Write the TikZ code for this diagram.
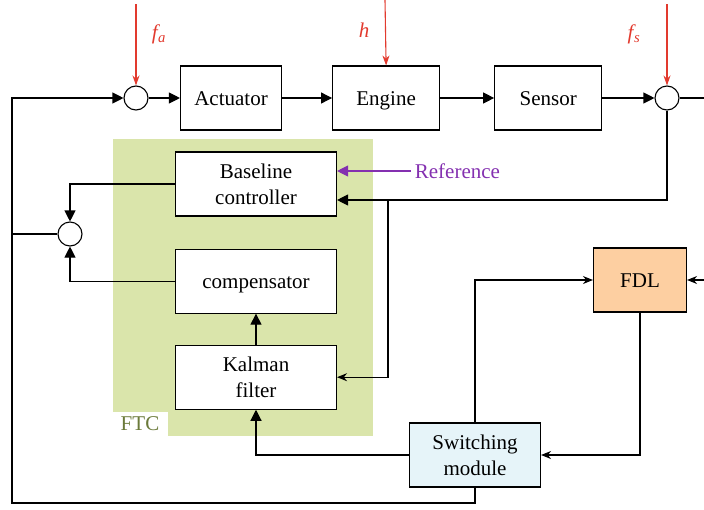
\documentclass[tikz,border=0pt]{standalone}
\usepackage{fontspec}
\setmainfont{Liberation Serif}
\usepackage{xcolor}
\usetikzlibrary{arrows.meta,positioning}
\definecolor{ftcfill}{HTML}{DAE5AB}
\definecolor{ftctext}{HTML}{6B7A3A}
\definecolor{fdlfill}{HTML}{FDCFA1}
\definecolor{swfill}{HTML}{E6F4F9}
\definecolor{faultred}{HTML}{E23A2E}
\definecolor{refpurple}{HTML}{8430B0}

\begin{document}
\begin{tikzpicture}[x=1pt,y=-1pt,font=\fontsize{21}{26}\selectfont,
  line width=1.1pt,
  blk/.style={draw,fill=white,minimum width=107pt,minimum height=64pt,
              align=center,inner sep=2pt},
  one/.style={text height=15pt,text depth=0pt},
  sum/.style={draw,fill=white,circle,minimum size=24pt,inner sep=0pt},
  e/.style={-{Triangle[length=11pt,width=11pt]}},
  e2/.style={-{Stealth[length=10pt,width=8pt]}},
  fl/.style={-{Stealth[length=10pt,width=7pt]},faultred}]
  \useasboundingbox (0,0) rectangle (704,509);
  % FTC area
  \fill[ftcfill] (113,139) rectangle (373,436);
  \fill[white] (113,412) rectangle (168,436);
  \node[text=ftctext] (ftc) at (140,424) {FTC};
  % plant loop
  \node[sum] (s1) at (136,98) {};
  \node[blk,one,minimum width=101pt] (act) at (231,98) {Actuator};
  \node[blk,one,right=50pt of act] (eng) {Engine};
  \node[blk,one,right=54pt of eng] (sen) {Sensor};
  \node[sum] (s2) at (667,98) {};
  % controller
  \node[blk,minimum width=161pt] (bc) at (256,184) {Baseline\\controller};
  \node[blk,one,minimum width=161pt,below=32pt of bc] (comp) {compensator};
  \node[blk,minimum width=161pt,below=31pt of comp] (kf) {Kalman\\filter};
  \node[sum] (s3) at (70,234) {};
  \node[blk,one,fill=fdlfill,minimum width=93pt] (fdl) at (640,280) {FDL};
  \node[blk,fill=swfill,minimum width=131pt] (sw) at (475,455) {Switching\\module};
  \node[text=refpurple,anchor=west] (ref) at (411,171) {Reference};
  \coordinate (out) at (704,98);
  \coordinate (in) at (704,280);
  \coordinate (j1) at (388,200);
  \coordinate (c1) at (12,503);
  \coordinate (fa) at (136,4);
  \coordinate (fh) at (385,0);
  \coordinate (fs) at (667,4);
  % faults
  \draw[fl] (fa) -- (s1.north);
  \draw[fl] (fh) -- (eng.north);
  \draw[fl] (fs) -- (s2.north);
  \node[text=faultred] (lfa) at (159,34) {\textit{f\kern0.5pt\textsubscript{a}}};
  \node[text=faultred] (lh) at (364,30) {\textit{h}};
  \node[text=faultred] (lfs) at (634,34) {\textit{f\kern0.5pt\textsubscript{s}}};
  % arrows
  \draw[e] (s1) -- (act);
  \draw[e] (act) -- (eng);
  \draw[e] (eng) -- (sen);
  \draw[e] (sen) -- (s2);
  \draw (s2) -- (out);
  \draw[e] (s2.south) |- ([yshift=-16pt]bc.east);
  \draw[e2] (j1) |- (kf.east);
  \draw[e,refpurple] (ref.west) -- ([yshift=13pt]bc.east);
  \draw[e] (bc.west) -| (s3.north);
  \draw[e] (comp.west) -| (s3.south);
  \draw (s3.west) -- (s3.west -| c1);
  \draw[e] (kf) -- (comp);
  \draw[e] (sw.west) -| (kf.south);
  \draw[e2] (sw.north) |- (fdl.west);
  \draw[e2] (fdl.south) |- (sw.east);
  \draw[e2] (in) -- (fdl.east);
  \draw[e] (sw.south) |- (c1) |- (s1.west);
\end{tikzpicture}
\end{document}
